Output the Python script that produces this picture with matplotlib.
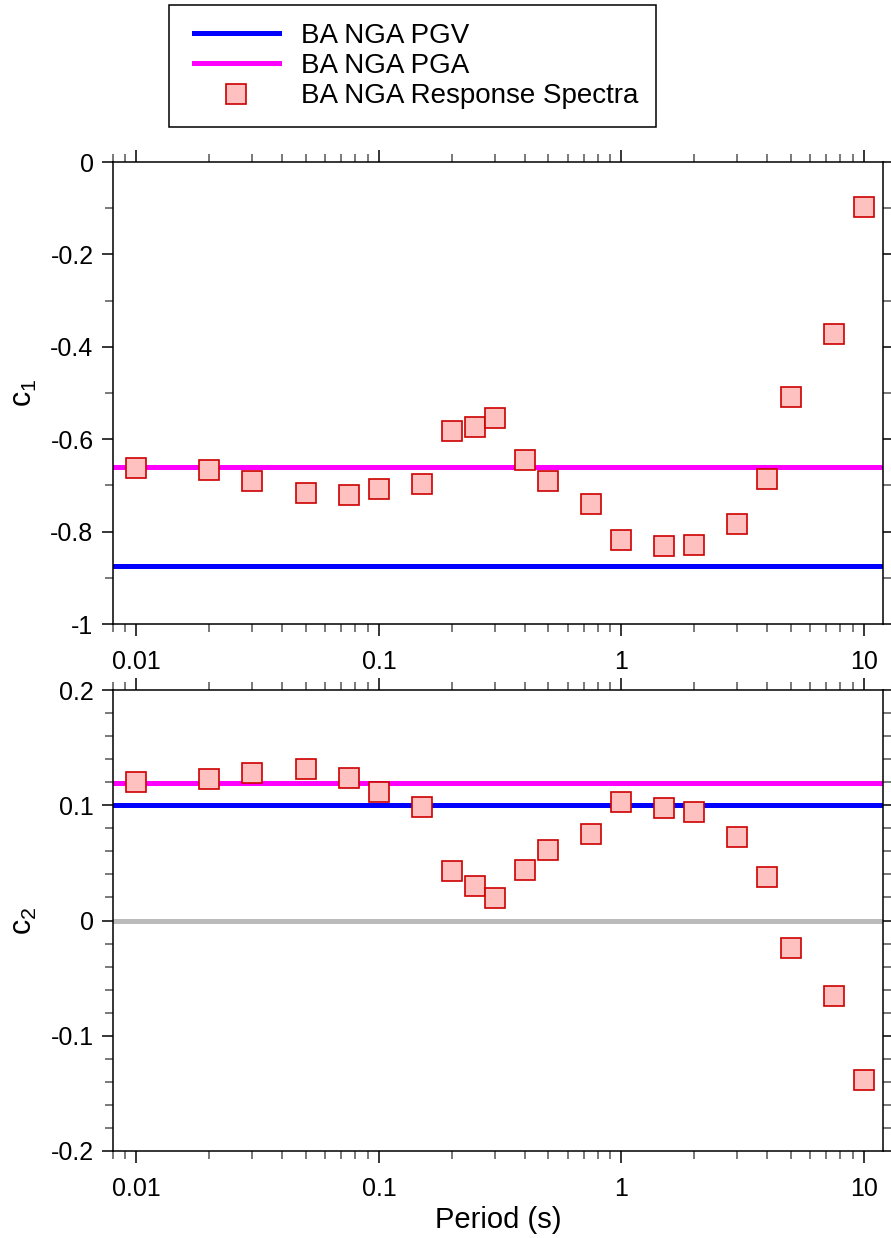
import matplotlib
matplotlib.use('Agg')
import matplotlib.pyplot as plt
from matplotlib.ticker import FixedLocator, NullFormatter
from matplotlib.lines import Line2D
from matplotlib.legend_handler import HandlerLine2D

plt.rcParams['font.family'] = ['Liberation Sans', 'DejaVu Sans']
plt.rcParams['mathtext.fontset'] = 'custom'
plt.rcParams['mathtext.rm'] = 'Liberation Sans'

#BA NGA coefficients against spectral period
periods = [0.01, 0.02, 0.03, 0.05, 0.075, 0.1, 0.15, 0.2, 0.25, 0.3, 0.4,
           0.5, 0.75, 1.0, 1.5, 2.0, 3.0, 4.0, 5.0, 7.5, 10.0]
c1_sa = [-0.6622, -0.666, -0.6901, -0.717, -0.7205, -0.7081, -0.6961, -0.583,
         -0.5726, -0.5543, -0.6443, -0.6914, -0.7408, -0.8183, -0.8303, -0.8285,
         -0.7844, -0.6854, -0.5096, -0.3724, -0.09824]
c2_sa = [0.1200, 0.1228, 0.1283, 0.1317, 0.1237, 0.1117, 0.09884, 0.04273,
         0.02977, 0.01955, 0.04394, 0.0608, 0.07518, 0.1027, 0.09793, 0.09432,
         0.07282, 0.03758, -0.02391, -0.06568, -0.138]
c1_pgv, c1_pga = -0.8737, -0.6605
c2_pgv, c2_pga = 0.1006, 0.1197

x_major = [0.01, 0.1, 1, 10]
x_major_labels = ['0.01', '0.1', '1', '10']
x_minor = [0.008, 0.009] + [m * d for d in (0.01, 0.1, 1) for m in range(2, 10)]

c1_ticks = [0, -0.2, -0.4, -0.6, -0.8, -1]
c1_labels = ['0', '-0.2', '-0.4', '-0.6', '-0.8', '-1']
c1_minor = [-0.1, -0.3, -0.5, -0.7, -0.9]
c2_ticks = [0.2, 0.1, 0, -0.1, -0.2]
c2_labels = ['0.2', '0.1', '0', '-0.1', '-0.2']
c2_minor = [0.18, 0.16, 0.14, 0.12, 0.08, 0.06, 0.04, 0.02,
            -0.02, -0.04, -0.06, -0.08, -0.12, -0.14, -0.16, -0.18]

blue = '#0000ff'
magenta = '#ff00ff'
face = '#ffc0c0'
edge = '#cc0000'

W, H = 891, 1238
fig = plt.figure(figsize=(W/100, H/100), dpi=100)

ax1 = fig.add_axes([113/W, 1-624/H, 770/W, 462/H])
ax2 = fig.add_axes([113/W, 1-1151/H, 770/W, 461/H])


def style_axis(ax, yticks, ylabels, yminor, ylim, ylabel):
	ax.set_xscale('log')
	ax.set_xlim(0.008, 12)
	ax.set_ylim(*ylim)
	ax.xaxis.set_major_locator(FixedLocator(x_major))
	ax.xaxis.set_minor_locator(FixedLocator(x_minor))
	ax.xaxis.set_minor_formatter(NullFormatter())
	ax.set_xticks(x_major, x_major_labels)
	ax.set_yticks(yticks, ylabels)
	ax.yaxis.set_minor_locator(FixedLocator(yminor))
	ax.tick_params(axis='x', which='major', direction='out', length=8.5, width=1.1,
				   top=True, bottom=True, labelsize=18, pad=10)
	ax.tick_params(axis='x', which='minor', direction='out', length=5.5, width=1.1,
				   top=True, bottom=True, color='#555555')
	ax.tick_params(axis='y', which='major', direction='out', length=8, width=1.1,
				   left=True, right=True, labelsize=18, pad=6)
	ax.tick_params(axis='y', which='minor', direction='out', length=5.5, width=1.1,
				   left=True, right=True, color='#555555')
	for sp in ax.spines.values():
		sp.set_linewidth(1.1)
	ax.set_ylabel(ylabel, fontsize=22, labelpad=8)


#top panel: c1
ax1.axhline(c1_pgv, color=blue, lw=3.6, zorder=2)
ax1.axhline(c1_pga, color=magenta, lw=3.6, zorder=2)
ax1.plot(periods, c1_sa, ls='none', marker='s', ms=15, mfc=face, mec=edge, mew=1.2, zorder=3)
style_axis(ax1, c1_ticks, c1_labels, c1_minor, (-1, 0), r'$\mathregular{c_1}$')

#bottom panel: c2, with the zero line underneath
ax2.axhline(0, color='#bbbbbb', lw=3.6, zorder=1)
ax2.axhline(c2_pgv, color=blue, lw=3.6, zorder=2)
ax2.axhline(c2_pga, color=magenta, lw=3.6, zorder=2)
ax2.plot(periods, c2_sa, ls='none', marker='s', ms=15, mfc=face, mec=edge, mew=1.2, zorder=3)
style_axis(ax2, c2_ticks, c2_labels, c2_minor, (-0.2, 0.2), r'$\mathregular{c_2}$')
ax2.set_xlabel('Period (s)', fontsize=21, labelpad=4)

handles = [Line2D([], [], color=blue, lw=3.6),
		   Line2D([], [], color=magenta, lw=3.6),
		   Line2D([], [], ls='none', marker='s', ms=15, mfc=face, mec=edge, mew=1.2)]
#xpad pushes the legend samples in from the frame edge
leg = fig.legend(handles, ['BA NGA PGV', 'BA NGA PGA', 'BA NGA Response Spectra'],
				 loc='upper left', bbox_to_anchor=(169/W, 1-5/H), borderaxespad=0,
				 fontsize=20, fancybox=False, framealpha=1, edgecolor='black',
				 handlelength=3.3, handletextpad=0.8, labelspacing=0.15, borderpad=0.65,
				 handler_map={Line2D: HandlerLine2D(xpad=0.24)})
leg.get_frame().set_linewidth(1.1)

plt.savefig('out.png', dpi=100)
